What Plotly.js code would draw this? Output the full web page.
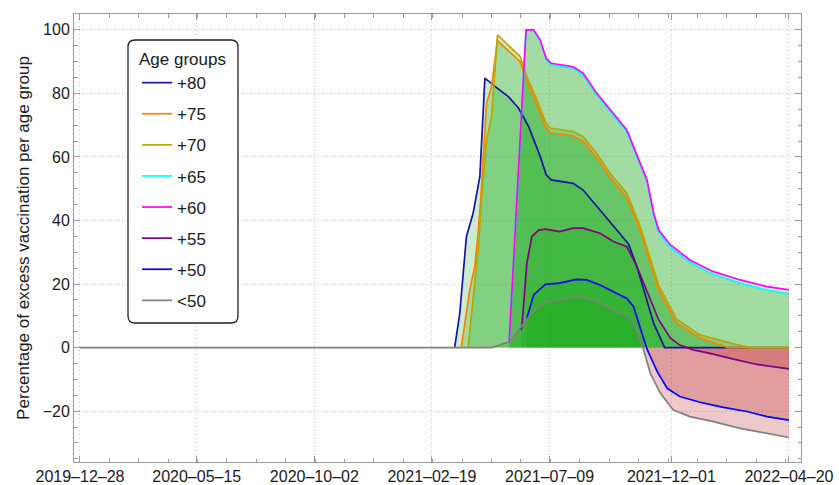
<!DOCTYPE html>
<html>
<head>
<meta charset="utf-8">
<script src="https://cdn.plot.ly/plotly-3.0.1.min.js"></script>
<style>
html,body{margin:0;padding:0;background:#fff;}
#chart{width:839px;height:485px;}
</style>
</head>
<body>
<div id="chart"></div>
<script>
// ---- Data ----
const seriesNames = ['+80', '+75', '+70', '+65', '+60', '+55', '+50', '<50'];

const dates80 = ['2021-03-18','2021-03-24','2021-04-01','2021-04-09','2021-04-17','2021-04-23','2021-05-05','2021-05-21','2021-06-02','2021-06-14','2021-06-28','2021-07-05','2021-07-11','2021-08-06','2021-08-18','2021-09-07','2021-09-23','2021-10-11','2021-10-21','2021-11-02','2021-11-10','2021-11-23','2022-04-20'];
const values80 = [0,10.5,34.9,42.3,53.8,84.8,82.2,79.0,75.4,69.6,60.1,54.4,52.8,51.7,49.6,43.3,38.1,32.6,25.5,15.0,7.6,0,0];

const dates75 = ['2021-03-26','2021-04-05','2021-04-11','2021-04-15','2021-04-18','2021-04-25','2021-05-01','2021-05-08','2021-06-04','2021-06-12','2021-06-24','2021-07-04','2021-07-10','2021-08-06','2021-08-18','2021-09-03','2021-09-19','2021-10-09','2021-10-25','2021-11-10','2021-11-16','2021-12-07','2022-01-04','2022-02-07','2022-04-20'];
const values75 = [0,18.2,25.5,36.0,46.5,76.9,82.2,96.6,90.0,83.8,76.5,69.6,67.6,66.6,65.0,59.8,53.5,47.2,36.7,23.5,18.0,7.8,3.0,0,0];

const dates70 = ['2021-04-03','2021-04-09','2021-04-15','2021-04-19','2021-04-25','2021-05-01','2021-05-08','2021-06-04','2021-06-12','2021-06-24','2021-07-04','2021-07-10','2021-08-06','2021-08-18','2021-09-03','2021-09-19','2021-10-09','2021-10-25','2021-11-10','2021-11-16','2021-12-07','2022-01-04','2022-02-13','2022-03-05','2022-04-20'];
const values70 = [0,15.0,30.8,46.5,65.4,72.7,98.4,91.6,85.3,78.0,71.1,69.1,68.0,66.4,61.2,54.9,48.6,38.1,25.0,19.5,9.0,4.0,1.2,0,0];

const dates65 = ['2021-05-22','2021-06-11','2021-06-20','2021-06-28','2021-07-05','2021-07-11','2021-08-06','2021-08-18','2021-09-03','2021-09-19','2021-10-09','2021-10-25','2021-11-02','2021-11-10','2021-11-16','2021-11-30','2021-12-23','2022-01-20','2022-02-21','2022-03-25','2022-04-20'];
const values65 = [2.0,99.6,99.6,96.4,90.6,89.0,87.9,85.8,79.5,74.2,67.9,57.4,52.1,41.6,36.3,31.5,26.8,23.0,20.3,18.1,16.9];

const dates60 = ['2021-05-22','2021-06-11','2021-06-20','2021-06-28','2021-07-05','2021-07-11','2021-08-06','2021-08-18','2021-09-03','2021-09-19','2021-10-09','2021-10-25','2021-11-02','2021-11-10','2021-11-16','2021-11-30','2021-12-23','2022-01-20','2022-02-21','2022-03-25','2022-04-20'];
const values60 = [2.0,100,100,96.8,91.0,89.5,88.4,86.4,80.1,74.8,68.5,58.0,52.8,42.3,37.0,32.3,27.6,23.9,21.3,19.2,18.2];

const dates55 = ['2021-06-05','2021-06-06','2021-06-12','2021-06-18','2021-06-26','2021-07-04','2021-07-21','2021-08-06','2021-08-18','2021-09-07','2021-09-23','2021-10-09','2021-10-21','2021-11-02','2021-11-16','2021-11-30','2021-12-11','2021-12-27','2022-01-16','2022-02-13','2022-03-13','2022-04-20'];
const values55 = [5.5,6.6,26.6,35.0,37.0,37.3,36.5,37.6,37.6,36.0,33.4,31.8,25.5,17.5,8.7,3.0,0.8,-0.7,-1.8,-3.6,-5.3,-6.7];

const dates50 = ['2021-06-12','2021-06-20','2021-07-04','2021-07-21','2021-08-10','2021-08-22','2021-09-07','2021-09-23','2021-10-09','2021-10-17','2021-10-25','2021-11-02','2021-11-14','2021-11-26','2021-12-11','2022-01-04','2022-02-01','2022-03-01','2022-03-25','2022-04-20'];
const values50 = [9.2,16.6,19.9,20.3,21.5,21.3,19.7,17.6,15.5,12.9,6.1,-0.5,-7.5,-12.8,-15.4,-17.2,-18.8,-20.1,-21.7,-22.8];

const datesLt50 = ['2019-12-28','2021-05-01','2021-05-23','2021-06-04','2021-06-16','2021-06-28','2021-07-10','2021-07-21','2021-08-14','2021-09-03','2021-09-23','2021-10-11','2021-10-17','2021-10-29','2021-11-06','2021-11-18','2021-12-03','2021-12-23','2022-01-20','2022-02-21','2022-03-25','2022-04-20'];
const valuesLt50 = [0,0,1.9,6.0,10.3,13.2,14.5,15.0,16.0,14.5,11.6,9.8,7.5,-0.7,-8.1,-14.4,-19.6,-21.7,-23.3,-25.4,-26.9,-28.3];

const tickDates = ['2019-12-28','2020-05-15','2020-10-02','2021-02-19','2021-07-09','2021-12-01','2022-04-20'];
const tickLabels = ['2019–12–28','2020–05–15','2020–10–02','2021–02–19','2021–07–09','2021–12–01','2022–04–20'];

// ---- Styles ----
const lineColors = ['#1414a0', '#ff8000', '#b4aa00', '#00ffff', '#ff00ff', '#800080', '#0000ff', '#808080'];
const posFill = 'rgba(0,160,0,0.2)';
const negFill = 'rgba(175,0,0,0.21)';
const FONT = 'Liberation Sans, Arial, Helvetica, sans-serif';

const allDates = [dates80, dates75, dates70, dates65, dates60, dates55, dates50, datesLt50];
const allValues = [values80, values75, values70, values65, values60, values55, values50, valuesLt50];

// split a series into its positive or negative part (with zero crossings) for the fill
function signedPart(xs, ys, sign) {
  const ox = [], oy = [];
  for (let i = 0; i < xs.length; i++) {
    const t = Date.parse(xs[i] + 'T00:00:00Z');
    if (i > 0) {
      const y0 = ys[i - 1], y1 = ys[i];
      if ((y0 > 0 && y1 < 0) || (y0 < 0 && y1 > 0)) {
        const t0 = Date.parse(xs[i - 1] + 'T00:00:00Z');
        ox.push(t0 + (t - t0) * (y0 / (y0 - y1)));
        oy.push(0);
      }
    }
    ox.push(t);
    oy.push(sign > 0 ? Math.max(ys[i], 0) : Math.min(ys[i], 0));
  }
  return {x: ox, y: oy};
}

const traces = [];
allDates.forEach((xs, k) => {
  const ys = allValues[k];
  const p = signedPart(xs, ys, 1);
  traces.push({x: p.x, y: p.y, type: 'scatter', mode: 'lines', fill: 'tozeroy',
    fillcolor: posFill, line: {width: 0, color: 'rgba(0,0,0,0)'}, showlegend: false, hoverinfo: 'skip'});
  if (ys.some(v => v < 0)) {
    const n = signedPart(xs, ys, -1);
    traces.push({x: n.x, y: n.y, type: 'scatter', mode: 'lines', fill: 'tozeroy',
      fillcolor: negFill, line: {width: 0, color: 'rgba(0,0,0,0)'}, showlegend: false, hoverinfo: 'skip'});
  }
});
allDates.forEach((xs, k) => {
  traces.push({x: xs, y: allValues[k], type: 'scatter', mode: 'lines', name: seriesNames[k],
    legendgroup: 'g' + k, line: {color: lineColors[k], width: 1.7}});
});

// legend frame (rounded) in paper coords
const L = 74, R = 801, T = 14, B = 462;
const W = R - L, H = B - T;
const bx0 = (128 - L) / W, bx1 = (238 - L) / W, by0 = (B - 323) / H, by1 = (B - 40) / H;
const rx = 7 / W, ry = 7 / H;
const framePath = `M ${bx0 + rx},${by1} L ${bx1 - rx},${by1} Q ${bx1},${by1} ${bx1},${by1 - ry} ` +
  `L ${bx1},${by0 + ry} Q ${bx1},${by0} ${bx1 - rx},${by0} L ${bx0 + rx},${by0} Q ${bx0},${by0} ${bx0},${by0 + ry} ` +
  `L ${bx0},${by1 - ry} Q ${bx0},${by1} ${bx0 + rx},${by1} Z`;

const axisCommon = {
  showline: true, linecolor: '#9a9a9a', linewidth: 1, mirror: 'allticks',
  ticks: 'inside', ticklen: 6, tickcolor: '#9a9a9a', tickwidth: 1,
  showgrid: true, gridcolor: '#c4c4c4', griddash: '1px,3px', gridwidth: 1,
  zeroline: false, tickfont: {family: FONT, size: 16, color: '#1a1a1a'}
};

const layout = {
  width: 839, height: 485,
  margin: {l: L, r: 839 - R, t: T, b: 485 - B},
  paper_bgcolor: '#ffffff', plot_bgcolor: '#ffffff',
  font: {family: FONT, color: '#1a1a1a'},
  showlegend: true,
  xaxis: Object.assign({}, axisCommon, {
    type: 'date', range: ['2019-12-20 21:00', '2022-05-04 08:00'],
    tickmode: 'array', tickvals: tickDates, ticktext: tickLabels,
    minor: {ticks: 'inside', ticklen: 3.5, tickcolor: '#9a9a9a', dtick: 35 * 86400000, tick0: '2019-12-28', showgrid: false}
  }),
  yaxis: Object.assign({}, axisCommon, {
    range: [-36, 105], tick0: 0, dtick: 20,
    minor: {ticks: 'inside', ticklen: 3.5, tickcolor: '#9a9a9a', dtick: 5, tick0: 0, showgrid: false},
    title: {text: 'Percentage of excess vaccination per age group', font: {family: FONT, size: 17, color: '#1a1a1a'}, standoff: 8}
  }),
  legend: {
    x: bx0 + 9 / W, y: by1 - 3 / H, xanchor: 'left', yanchor: 'top',
    bgcolor: 'rgba(0,0,0,0)', borderwidth: 0,
    font: {family: FONT, size: 17, color: '#1a1a1a'},
    title: {text: 'Age groups', side: 'top center', font: {family: FONT, size: 17, color: '#1a1a1a'}},
    traceorder: 'grouped', tracegroupgap: 6, itemwidth: 30
  },
  shapes: [{type: 'path', xref: 'paper', yref: 'paper', path: framePath,
    fillcolor: '#ffffff', line: {color: '#222222', width: 1.3}, layer: 'above'}]
};

Plotly.newPlot('chart', traces, layout, {displayModeBar: false, staticPlot: true});
</script>
</body>
</html>
